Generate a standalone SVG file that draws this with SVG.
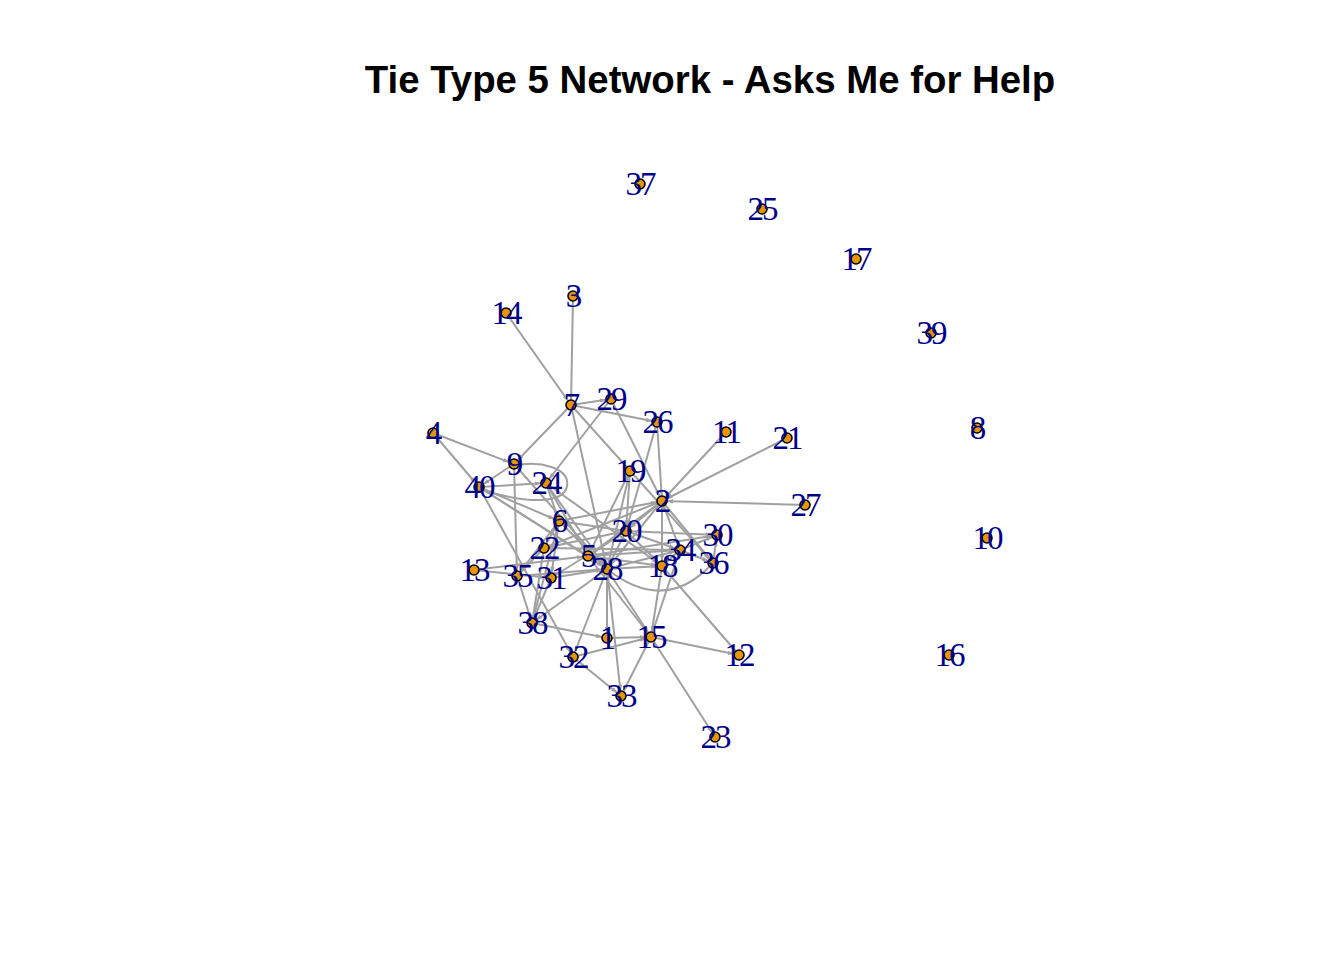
<svg xmlns="http://www.w3.org/2000/svg" width="1344" height="960" viewBox="0 0 1344 960">
<style>
.e line,.e path{stroke:#a0a0a0;stroke-width:2;fill:none}
.e line{marker-end:url(#a)}
.n circle{fill:#e69500;stroke:#000;stroke-width:1.6}
.n text{font-family:"Liberation Serif","Times New Roman",serif;font-size:33px;fill:#00008b;text-anchor:middle;letter-spacing:-2px}
.t{font-family:"Liberation Sans",Arial,sans-serif;font-weight:bold;font-size:38.4px;text-anchor:middle;fill:#000}
</style>
<defs>
<marker id="a" markerUnits="userSpaceOnUse" markerWidth="30" markerHeight="10" refX="11" refY="0" orient="auto" overflow="visible">
<path d="M0,-2.2 L6,0 L0,2.2 Z" fill="#a0a0a0"/>
</marker>
</defs>
<rect width="1344" height="960" fill="#fff"/>
<text class="t" x="710" y="93">Tie Type 5 Network - Asks Me for Help</text>
<g id="edges" class="e">
<line x1="506" y1="313" x2="571" y2="405"/>
<line x1="573" y1="296" x2="571" y2="405"/>
<line x1="571" y1="405" x2="611" y2="399"/>
<line x1="571" y1="405" x2="657" y2="422"/>
<line x1="571" y1="405" x2="514" y2="464"/>
<line x1="571" y1="405" x2="713" y2="563"/>
<line x1="571" y1="405" x2="607" y2="569"/>
<line x1="611" y1="399" x2="546" y2="483"/>
<line x1="611" y1="399" x2="662" y2="501"/>
<line x1="657" y1="422" x2="662" y2="501"/>
<line x1="657" y1="422" x2="626" y2="531"/>
<line x1="726" y1="432" x2="662" y2="501"/>
<line x1="787" y1="438" x2="662" y2="501"/>
<line x1="805" y1="505" x2="662" y2="501"/>
<line x1="433" y1="433" x2="514" y2="464"/>
<line x1="433" y1="433" x2="479" y2="487"/>
<line x1="514" y1="464" x2="479" y2="487"/>
<line x1="479" y1="487" x2="546" y2="483"/>
<line x1="514" y1="464" x2="517" y2="576"/>
<line x1="479" y1="487" x2="607" y2="569"/>
<line x1="479" y1="487" x2="588" y2="556"/>
<line x1="479" y1="487" x2="559" y2="521"/>
<line x1="479" y1="487" x2="573" y2="657"/>
<line x1="514" y1="464" x2="607" y2="569"/>
<line x1="546" y1="483" x2="559" y2="521"/>
<line x1="546" y1="483" x2="607" y2="569"/>
<line x1="546" y1="483" x2="588" y2="556"/>
<line x1="546" y1="483" x2="662" y2="566"/>
<line x1="630" y1="471" x2="607" y2="569"/>
<line x1="630" y1="471" x2="588" y2="556"/>
<line x1="630" y1="471" x2="626" y2="531"/>
<line x1="662" y1="501" x2="626" y2="531"/>
<line x1="662" y1="501" x2="588" y2="556"/>
<line x1="662" y1="501" x2="544" y2="548"/>
<line x1="662" y1="501" x2="607" y2="569"/>
<line x1="662" y1="501" x2="680" y2="550"/>
<line x1="662" y1="501" x2="713" y2="563"/>
<line x1="662" y1="501" x2="662" y2="566"/>
<line x1="559" y1="521" x2="626" y2="531"/>
<line x1="559" y1="521" x2="662" y2="501"/>
<line x1="559" y1="521" x2="607" y2="569"/>
<line x1="559" y1="521" x2="551" y2="578"/>
<line x1="559" y1="521" x2="517" y2="576"/>
<line x1="544" y1="548" x2="559" y2="521"/>
<line x1="544" y1="548" x2="517" y2="576"/>
<line x1="544" y1="548" x2="626" y2="531"/>
<line x1="544" y1="548" x2="680" y2="550"/>
<line x1="474" y1="570" x2="588" y2="556"/>
<line x1="474" y1="570" x2="551" y2="578"/>
<line x1="517" y1="576" x2="532" y2="623"/>
<line x1="517" y1="576" x2="607" y2="569"/>
<line x1="551" y1="578" x2="607" y2="569"/>
<line x1="551" y1="578" x2="532" y2="623"/>
<line x1="551" y1="578" x2="626" y2="531"/>
<line x1="588" y1="556" x2="626" y2="531"/>
<line x1="588" y1="556" x2="607" y2="569"/>
<line x1="588" y1="556" x2="717" y2="535"/>
<line x1="588" y1="556" x2="680" y2="550"/>
<line x1="588" y1="556" x2="662" y2="566"/>
<line x1="588" y1="556" x2="651" y2="637"/>
<line x1="607" y1="569" x2="626" y2="531"/>
<line x1="607" y1="569" x2="662" y2="566"/>
<line x1="607" y1="569" x2="680" y2="550"/>
<line x1="607" y1="569" x2="607" y2="638"/>
<line x1="607" y1="569" x2="621" y2="696"/>
<line x1="607" y1="569" x2="651" y2="637"/>
<line x1="607" y1="569" x2="532" y2="623"/>
<line x1="607" y1="569" x2="573" y2="657"/>
<line x1="626" y1="531" x2="717" y2="535"/>
<line x1="626" y1="531" x2="680" y2="550"/>
<line x1="626" y1="531" x2="662" y2="566"/>
<line x1="680" y1="550" x2="717" y2="535"/>
<line x1="680" y1="550" x2="713" y2="563"/>
<line x1="713" y1="563" x2="717" y2="535"/>
<line x1="662" y1="566" x2="680" y2="550"/>
<line x1="662" y1="566" x2="651" y2="637"/>
<line x1="680" y1="550" x2="651" y2="637"/>
<line x1="662" y1="566" x2="739" y2="655"/>
<line x1="532" y1="623" x2="607" y2="638"/>
<line x1="607" y1="638" x2="651" y2="637"/>
<line x1="573" y1="657" x2="651" y2="637"/>
<line x1="573" y1="657" x2="621" y2="696"/>
<line x1="651" y1="637" x2="621" y2="696"/>
<line x1="651" y1="637" x2="739" y2="655"/>
<line x1="651" y1="637" x2="715" y2="737"/>
<line x1="532" y1="623" x2="544" y2="548"/>
<line x1="532" y1="623" x2="559" y2="521"/>
<path d="M514,466 C540,460 570,468 567,486 C564,504 528,504 482,490"/>
<path d="M607,569 Q665,615 713,563"/>
</g>
<g id="n1" class="n"><circle cx="607" cy="638" r="5"/><text x="607" y="649">1</text></g>
<g id="n2" class="n"><circle cx="662" cy="501" r="5"/><text x="662" y="512">2</text></g>
<g id="n3" class="n"><circle cx="573" cy="296" r="5"/><text x="573" y="307">3</text></g>
<g id="n4" class="n"><circle cx="433" cy="433" r="5"/><text x="433" y="444">4</text></g>
<g id="n5" class="n"><circle cx="588" cy="556" r="5"/><text x="588" y="567">5</text></g>
<g id="n6" class="n"><circle cx="559" cy="521" r="5"/><text x="559" y="532">6</text></g>
<g id="n7" class="n"><circle cx="571" cy="405" r="5"/><text x="571" y="416">7</text></g>
<g id="n8" class="n"><circle cx="977" cy="428" r="5"/><text x="977" y="439">8</text></g>
<g id="n9" class="n"><circle cx="514" cy="464" r="5"/><text x="514" y="475">9</text></g>
<g id="n10" class="n"><circle cx="987" cy="538" r="5"/><text x="987" y="549">10</text></g>
<g id="n11" class="n"><circle cx="726" cy="432" r="5"/><text x="726" y="443">11</text></g>
<g id="n12" class="n"><circle cx="739" cy="655" r="5"/><text x="739" y="666">12</text></g>
<g id="n13" class="n"><circle cx="474" cy="570" r="5"/><text x="474" y="581">13</text></g>
<g id="n14" class="n"><circle cx="506" cy="313" r="5"/><text x="506" y="324">14</text></g>
<g id="n15" class="n"><circle cx="651" cy="637" r="5"/><text x="651" y="648">15</text></g>
<g id="n16" class="n"><circle cx="949" cy="655" r="5"/><text x="949" y="666">16</text></g>
<g id="n17" class="n"><circle cx="856" cy="259" r="5"/><text x="856" y="270">17</text></g>
<g id="n18" class="n"><circle cx="662" cy="566" r="5"/><text x="662" y="577">18</text></g>
<g id="n19" class="n"><circle cx="630" cy="471" r="5"/><text x="630" y="482">19</text></g>
<g id="n20" class="n"><circle cx="626" cy="531" r="5"/><text x="626" y="542">20</text></g>
<g id="n21" class="n"><circle cx="787" cy="438" r="5"/><text x="787" y="449">21</text></g>
<g id="n22" class="n"><circle cx="544" cy="548" r="5"/><text x="544" y="559">22</text></g>
<g id="n23" class="n"><circle cx="715" cy="737" r="5"/><text x="715" y="748">23</text></g>
<g id="n24" class="n"><circle cx="546" cy="483" r="5"/><text x="546" y="494">24</text></g>
<g id="n25" class="n"><circle cx="762" cy="209" r="5"/><text x="762" y="220">25</text></g>
<g id="n26" class="n"><circle cx="657" cy="422" r="5"/><text x="657" y="433">26</text></g>
<g id="n27" class="n"><circle cx="805" cy="505" r="5"/><text x="805" y="516">27</text></g>
<g id="n28" class="n"><circle cx="607" cy="569" r="5"/><text x="607" y="580">28</text></g>
<g id="n29" class="n"><circle cx="611" cy="399" r="5"/><text x="611" y="410">29</text></g>
<g id="n30" class="n"><circle cx="717" cy="535" r="5"/><text x="717" y="546">30</text></g>
<g id="n31" class="n"><circle cx="551" cy="578" r="5"/><text x="551" y="589">31</text></g>
<g id="n32" class="n"><circle cx="573" cy="657" r="5"/><text x="573" y="668">32</text></g>
<g id="n33" class="n"><circle cx="621" cy="696" r="5"/><text x="621" y="707">33</text></g>
<g id="n34" class="n"><circle cx="680" cy="550" r="5"/><text x="680" y="561">34</text></g>
<g id="n35" class="n"><circle cx="517" cy="576" r="5"/><text x="517" y="587">35</text></g>
<g id="n36" class="n"><circle cx="713" cy="563" r="5"/><text x="713" y="574">36</text></g>
<g id="n37" class="n"><circle cx="640" cy="184" r="5"/><text x="640" y="195">37</text></g>
<g id="n38" class="n"><circle cx="532" cy="623" r="5"/><text x="532" y="634">38</text></g>
<g id="n39" class="n"><circle cx="931" cy="333" r="5"/><text x="931" y="344">39</text></g>
<g id="n40" class="n"><circle cx="479" cy="487" r="5"/><text x="479" y="498">40</text></g>
</svg>
